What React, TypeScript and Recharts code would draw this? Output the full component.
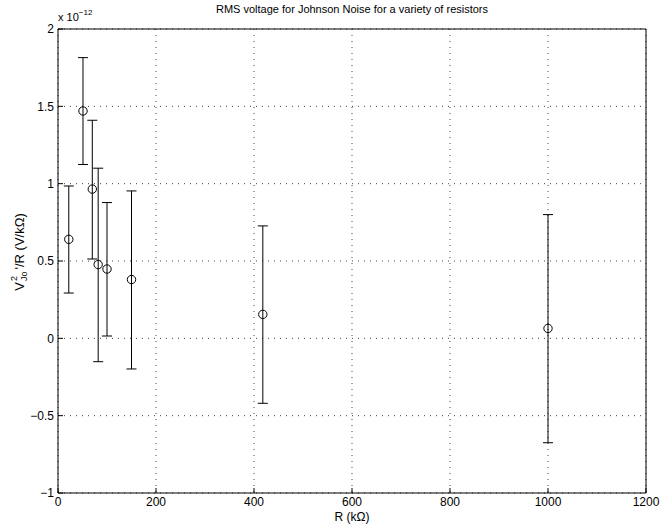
import React from 'react';
import { ScatterChart, Scatter, XAxis, YAxis, CartesianGrid, ErrorBar, ReferenceLine } from 'recharts';

// resistance in kOhm, values in units of 1e-12
const resistance = [22, 51, 70, 82, 100, 150, 418, 1000];
const meanValue = [0.64, 1.47, 0.965, 0.477, 0.448, 0.38, 0.155, 0.064];
const upperValue = [0.985, 1.815, 1.41, 1.1, 0.878, 0.953, 0.727, 0.8];
const lowerValue = [0.293, 1.124, 0.513, -0.151, 0.015, -0.198, -0.42, -0.675];

const xTicks = [0, 200, 400, 600, 800, 1000, 1200];
const yTicks = [-1, -0.5, 0, 0.5, 1, 1.5, 2];

const data = resistance.map((r, i) => ({
  r,
  v: meanValue[i],
  err: [meanValue[i] - lowerValue[i], upperValue[i] - meanValue[i]],
}));

const FONT = '"Liberation Sans", Arial, sans-serif';

const fmt = (v: number) => (v < 0 ? '\u2212' + Math.abs(v) : String(v));

const OpenCircle = (props: any) => {
  const { cx, cy } = props;
  return <circle cx={cx} cy={cy} r={4.2} fill="none" stroke="#000" strokeWidth={1} />;
};

const App: React.FC = () => {
  return (
    <div style={{ position: 'absolute', left: 0, top: 0, width: 660, height: 527, background: '#fff', fontFamily: FONT }}>
      <ScatterChart width={660} height={527} margin={{ top: 29, right: 14, bottom: 14, left: 0 }}>
        <CartesianGrid stroke="#444" strokeDasharray="1 5" strokeWidth={1} />
        <XAxis
          type="number"
          dataKey="r"
          domain={[0, 1200]}
          ticks={xTicks}
          height={20}
          stroke="#000"
          tickSize={-5}
          tickMargin={9}
          tick={{ fill: '#000', fontSize: 12, fontFamily: FONT }}
          allowDataOverflow
        />
        <YAxis
          type="number"
          dataKey="v"
          domain={[-1, 2]}
          ticks={yTicks}
          width={58}
          stroke="#000"
          tickSize={-5}
          tickMargin={9}
          tickFormatter={fmt}
          tick={{ fill: '#000', fontSize: 12, fontFamily: FONT }}
          allowDataOverflow
        />
        <ReferenceLine y={2} stroke="#000" strokeWidth={1} />
        <ReferenceLine x={1200} stroke="#000" strokeWidth={1} />
        <Scatter data={data} shape={<OpenCircle />} isAnimationActive={false}>
          <ErrorBar dataKey="err" direction="y" width={5} stroke="#000" strokeWidth={1} isAnimationActive={false} />
        </Scatter>
      </ScatterChart>

      <div style={{ position: 'absolute', left: 58, width: 588, top: 3, textAlign: 'center', fontSize: 11 }}>
        RMS voltage for Johnson Noise for a variety of resistors
      </div>
      <div style={{ position: 'absolute', left: 58, top: 8, fontSize: 11, whiteSpace: 'nowrap' }}>
        x 10<sup style={{ fontSize: 8, verticalAlign: 6 }}>−12</sup>
      </div>
      <div style={{ position: 'absolute', left: 58, width: 588, top: 510, textAlign: 'center', fontSize: 12 }}>
        R (kΩ)
      </div>
      <div
        style={{
          position: 'absolute',
          left: 19,
          top: 252,
          transform: 'translate(-50%, -50%) rotate(-90deg)',
          fontSize: 13,
          whiteSpace: 'nowrap',
          display: 'flex',
          alignItems: 'center',
        }}
      >
        <span>V</span>
        <span style={{ display: 'inline-flex', flexDirection: 'column', fontSize: 9, lineHeight: '10px', marginLeft: 1 }}>
          <span>2</span>
          <span>Jo</span>
        </span>
        <span style={{ marginLeft: 2 }}>'/R (V/kΩ)</span>
      </div>
    </div>
  );
};

export default App;
